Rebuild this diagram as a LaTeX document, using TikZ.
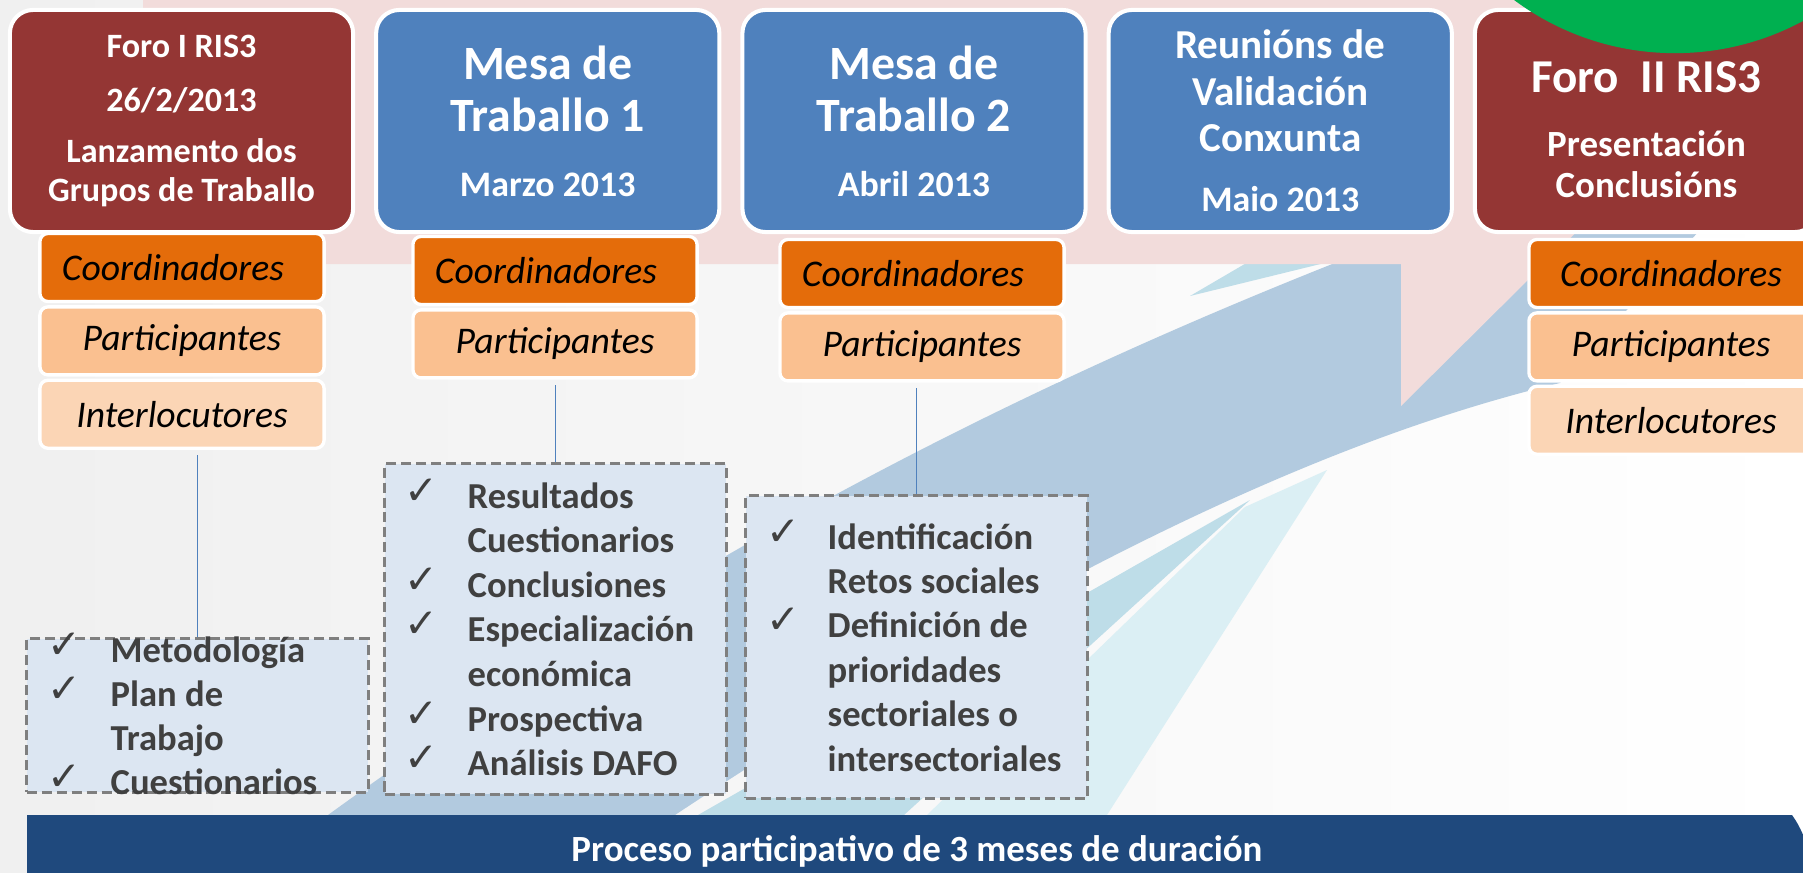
\documentclass[tikz,border=0pt]{standalone}
\usepackage{fontspec}
\setmainfont{Carlito}
\newfontfamily\checkfont{DejaVu Sans}
\usetikzlibrary{positioning}

\definecolor{foro}{HTML}{943634}
\definecolor{mesa}{HTML}{4F81BD}
\definecolor{coord}{HTML}{E46C0A}
\definecolor{partic}{HTML}{FAC090}
\definecolor{interl}{HTML}{FBD5B5}
\definecolor{listfill}{HTML}{DCE6F2}
\definecolor{listline}{HTML}{7F7F7F}
\definecolor{listtext}{HTML}{404040}
\definecolor{banner}{HTML}{1F497D}
\definecolor{pinkbg}{HTML}{F2DCDB}
\definecolor{swoosh}{HTML}{B2CADF}
\definecolor{cyanA}{HTML}{BEDDE8}
\definecolor{cyanB}{HTML}{DBEFF4}
\definecolor{greenc}{HTML}{00B050}

\begin{document}
\begin{tikzpicture}[x=0.01cm, y=-0.01cm,
  topbox/.style={rounded corners=6.6pt, draw=white, line width=1.15pt, text=white, align=center, minimum width=3.43cm, minimum height=2.22cm, inner sep=0pt},
  subbox/.style={rounded corners=2.3pt, draw=white, line width=0.95pt, font=\itshape\fontsize{10.7}{12}\selectfont, minimum width=2.84cm, minimum height=0.68cm, inner sep=0pt},
  listbox/.style={fill=listfill, draw=listline, line width=0.85pt, dash pattern=on 2.85pt off 1.4pt, minimum width=3.41cm, inner sep=0pt},
  listitem/.style={anchor=base west, text=listtext, font=\bfseries\fontsize{10.4}{12.7}\selectfont, inner sep=0pt},
  chk/.style={anchor=base, text=listtext, font=\checkfont\fontsize{11.5}{12}\selectfont, inner sep=0pt},
  link/.style={draw=mesa, line width=0.45pt, shorten >=1.5pt}
]
\useasboundingbox (0,0) rectangle (1803,873);
\clip (0,0) rectangle (1803,873);

%Background
\fill[left color=black!6, right color=white] (0,0) rectangle (1803,873);
\fill[swoosh] (328,830) -- (328,815) .. controls (700,545) and (1050,370) .. (1420,230) -- (1700,230) -- (1560,383) .. controls (1300,445) and (1000,600) .. (675,815) -- (675,830) -- cycle;
\fill[cyanA] (698,830) -- (698,815) -- (1250,500) -- (904,815) -- (904,830) -- cycle;
\fill[cyanB] (927,830) -- (927,815) -- (1245,507) -- (1327,470) -- (1107,815) -- (1107,830) -- cycle;
\fill[cyanA] (1190,296) -- (1345,258) -- (1255,258) -- cycle;
\fill[pinkbg] (143,0) -- (1810,0) -- (1401,406) -- (1401,264) -- (143,264) -- cycle;

%Banner
\fill[banner] (27,873) -- (27,815) -- (1792,815) .. controls (1800,826) and (1806,840) .. (1812,860) -- (1812,873) -- cycle;
\node[text=white, font=\bfseries\fontsize{10.5}{12}\selectfont, inner sep=0pt] (proceso) at (917,851) {Proceso participativo de 3 meses de duración};

%Top boxes
\node[topbox, fill=foro, font=\bfseries\fontsize{9.7}{11.1}\selectfont] (foro1) at (181.5,121)
  {Foro I RIS3\\[4.3pt]26/2/2013\\[3.4pt]Lanzamento dos\\Grupos de Traballo};
\node[topbox, fill=mesa, right=0.19cm of foro1, font=\bfseries\fontsize{13.6}{14.8}\selectfont] (mesa1)
  {Mesa de\\Traballo 1\\[3.7pt]{\fontsize{10.2}{12}\selectfont Marzo 2013}};
\node[topbox, fill=mesa, right=0.19cm of mesa1, font=\bfseries\fontsize{13.6}{14.8}\selectfont] (mesa2)
  {Mesa de\\Traballo 2\\[3.7pt]{\fontsize{10.2}{12}\selectfont Abril 2013}};
\node[topbox, fill=mesa, right=0.19cm of mesa2, font=\bfseries\fontsize{11.7}{13.2}\selectfont] (reunions)
  {Reunións de\\Validación\\Conxunta\\[3.9pt]{\fontsize{10.2}{12}\selectfont Maio 2013}};
\node[topbox, fill=foro, right=0.19cm of reunions, font=\bfseries\fontsize{10.5}{11.7}\selectfont] (foro2)
  {\rule{0pt}{0.49cm}{\fontsize{13.4}{15}\selectfont Foro\ \ II RIS3}\\[6.5pt]Presentación\\Conclusións};
\fill[greenc] (1675,-217) circle (2.7cm);

%Roles
\node[subbox, fill=coord] (c-foro1) at (182,267.5) {Coordinadores\kern0.18cm};
\node[subbox, fill=partic, below=0.02cm of c-foro1] (p-foro1) {Participantes};
\node[subbox, fill=interl, below=0.02cm of p-foro1] (i-foro1) {Interlocutores};
\node[subbox, fill=coord] (c-mesa1) at (555,270.5) {Coordinadores\kern0.18cm};
\node[subbox, fill=partic, below=0.02cm of c-mesa1] (p-mesa1) {Participantes};
\node[subbox, fill=coord] (c-mesa2) at (922,273.5) {Coordinadores\kern0.18cm};
\node[subbox, fill=partic, below=0.02cm of c-mesa2] (p-mesa2) {Participantes};
\node[subbox, fill=coord] (c-foro2) at (1671,273.5) {Coordinadores};
\node[subbox, fill=partic, below=0.02cm of c-foro2] (p-foro2) {Participantes};
\node[subbox, fill=interl, below=0.02cm of p-foro2] (i-foro2) {Interlocutores};

%Task lists
\node[listbox, minimum height=1.53cm] (lista) at (197.5,715.5) {};
\node[listbox, minimum height=3.30cm] (listb) at (555.5,629) {};
\node[listbox, minimum height=3.02cm] (listc) at (916.5,647) {};
\draw[link] (lista.north) -- (lista.north |- i-foro1.south);
\draw[link] (listb.north) -- (listb.north |- p-mesa1.south);
\draw[link] (listc.north) -- (listc.north |- p-mesa2.south);

\foreach \t [count=\i] in {Metodología, Plan de, Trabajo, Cuestionarios}
  \node[listitem] (la\i) at (110,{662+44.3*(\i-1)}) {\t};
\foreach \i in {1,2,4}
  \node[chk] (ka\i) at ([shift={(-46,-4)}]la\i.base west) {✓};

\foreach \t [count=\i] in {Resultados, Cuestionarios, Conclusiones, Especialización, económica, Prospectiva, Análisis DAFO}
  \node[listitem] (lb\i) at (467,{508+44.6*(\i-1)}) {\t};
\foreach \i in {1,3,4,6,7}
  \node[chk] (kb\i) at ([shift={(-46,-4)}]lb\i.base west) {✓};

\foreach \t [count=\i] in {Identificación, Retos sociales, Definición de, prioridades, sectoriales o, intersectoriales}
  \node[listitem] (lc\i) at (827,{549+44.4*(\i-1)}) {\t};
\foreach \i in {1,3}
  \node[chk] (kc\i) at ([shift={(-44,-4)}]lc\i.base west) {✓};

\end{tikzpicture}
\end{document}
